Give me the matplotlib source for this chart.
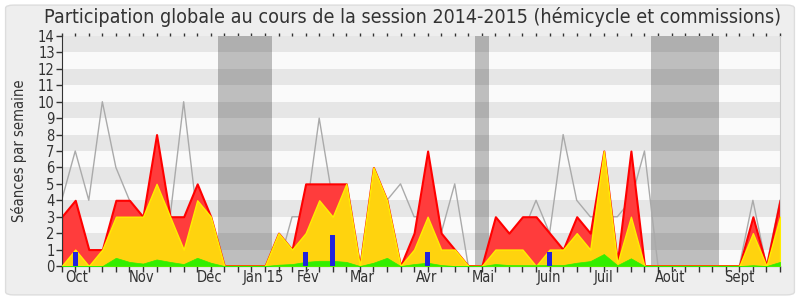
import numpy as np
import matplotlib
matplotlib.use('Agg')
import matplotlib.pyplot as plt
from matplotlib.patches import FancyBboxPatch

# weekly values, session 2014-2015 (54 weeks)
weeks = np.arange(54)
total = [3, 4, 1, 1, 4, 4, 3, 8, 3, 3, 5, 3, 0, 0, 0, 0,
         2, 1, 5, 5, 5, 5, 0, 6, 4, 0, 2, 7, 2, 1, 0, 0,
         3, 2, 3, 3, 2, 1, 3, 2, 7, 0.25, 7, 0, 0, 0, 0, 0, 0, 0, 0,
         3, 0, 4]
hemicycle = [0, 1, 0, 1, 3, 3, 3, 5, 3, 1, 4, 3, 0, 0, 0, 0,
             2, 1, 2, 4, 3, 5, 0, 6, 4, 0, 1, 3, 1, 1, 0, 0,
             1, 1, 1, 0, 1, 1, 2, 1, 7, 0.15, 3, 0, 0, 0, 0, 0, 0, 0, 0,
             2, 0, 3]
presence = [0, 0, 0, 0, 0.5, 0.25, 0.15, 0.4, 0.25, 0.12, 0.5, 0.2, 0, 0, 0, 0,
            0.08, 0.12, 0.25, 0.32, 0.32, 0.25, 0, 0.2, 0.5, 0, 0.12, 0.2, 0.06, 0, 0, 0,
            0.12, 0.06, 0.05, 0.05, 0.06, 0.06, 0.2, 0.3, 0.73, 0.05, 0.47, 0, 0, 0, 0, 0, 0, 0, 0,
            0.05, 0, 0.25]
mediane = [4, 7, 4, 10, 6, 4, 2, 3, 3, 10, 3, 2, 0, 0, 0, 0,
           0, 3, 3, 9, 4, 4, 0, 5, 4, 5, 3, 3, 2, 5, 0, 0,
           1, 2, 2, 4, 2, 8, 4, 3, 3, 3, 4, 7, 0, 0, 0, 0, 0, 0, 0,
           4, 0, 4]
questions = [0, 0.85, 0, 0, 0, 0, 0, 0, 0, 0, 0, 0, 0, 0, 0, 0,
             0, 0, 0.85, 0, 1.9, 0, 0, 0, 0, 0, 0, 0.85, 0, 0, 0, 0,
             0, 0, 0, 0, 0.85, 0, 0, 0, 0, 0, 0, 0, 0, 0, 0, 0, 0, 0, 0,
             0, 0, 0]
vacances = [(12, 15), (31, 31), (44, 48)]
mois = ['Oct', 'Nov', 'Déc', 'Jan 15', 'Fév', 'Mar', 'Avr', 'Mai', 'Juin', 'Juil', 'Août', 'Sept']
mois_pos = [1.13, 5.92, 10.94, 14.85, 18.16, 22.15, 26.94, 31.14, 35.94, 39.99, 44.86, 50.02]

font = dict(family='DejaVu Sans', stretch='condensed')

fig = plt.figure(figsize=(8, 3), dpi=100, facecolor='white')
fig.patches.append(FancyBboxPatch((0.007, 0.017), 0.986, 0.966, boxstyle='round,pad=0,rounding_size=0.01',
                                  transform=fig.transFigure, facecolor='#eeeeee',
                                  edgecolor='#dddddd', lw=1, zorder=-10))
ax = fig.add_axes([0.0771, 0.1133, 0.975 - 0.0771, 0.88 - 0.1133])
ax.set_facecolor('#fafafa')

# week off blocks, then darker stripes on top
for a, b in vacances:
    ax.axvspan(a - 0.5, b + 0.5, color='#bebebe', lw=0, zorder=0.5)
for k in range(1, 14, 2):
    ax.axhspan(k, k + 1, color='black', alpha=0.08, lw=0, zorder=0.6)

ax.plot(weeks, mediane, color='#aaaaaa', lw=1, zorder=1)
ax.fill_between(weeks, 0, total, facecolor='#ff3c3c', edgecolor='#ff0000', lw=1.5, zorder=2)
ax.fill_between(weeks, 0, hemicycle, facecolor='#ffd30e', edgecolor='#ffee00', lw=1, zorder=3)
ax.fill_between(weeks, 0, presence, facecolor='#33ee00', edgecolor='#33ee00', lw=0.5, zorder=4)
ax.bar(weeks, questions, width=0.4, color='#2222dd', zorder=5)

ax.set_xlim(0, 53)
ax.set_ylim(0, 14)
ax.set_yticks(range(15))
ax.set_yticklabels([str(v) for v in range(15)], fontsize=10.5, **font)
ax.set_xticks(weeks)
ax.set_xticklabels([])
ax.set_xticks(mois_pos, minor=True)
ax.set_xticklabels(mois, minor=True, fontsize=10.5, color='#333333', **font)
ax.tick_params(axis='x', which='major', length=4, width=1, color='#333333')
ax.tick_params(axis='x', which='minor', length=0, pad=3)
ax.tick_params(axis='y', length=4, width=1, color='#333333', labelcolor='#333333', pad=1)

top = ax.secondary_xaxis('top')
top.set_xticks(weeks)
top.set_xticklabels([])
top.tick_params(length=2, width=1, color='#333333')
top.spines['top'].set_visible(False)

ax.spines['top'].set_visible(False)
ax.spines['right'].set_color('#cccccc')
ax.spines['left'].set_color('#333333')
ax.spines['bottom'].set_color('#333333')

ax.set_ylabel('Séances par semaine', fontsize=10.5, color='#333333', labelpad=8, **font)
fig.text(0.516, 0.943, 'Participation globale au cours de la session 2014-2015 (hémicycle et commissions)',
         ha='center', va='center', fontsize=14.1, color='#333333', **font)

plt.savefig('out.png', dpi=100, facecolor=fig.get_facecolor())
